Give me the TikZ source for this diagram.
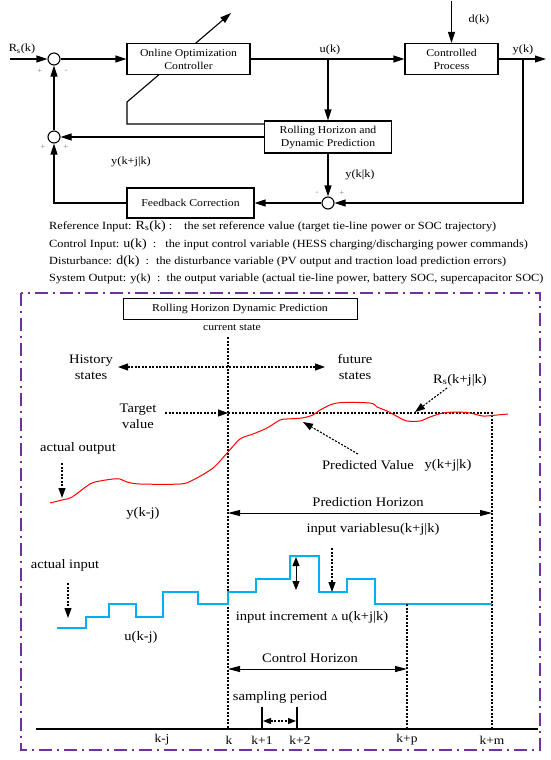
\documentclass[tikz,border=0pt]{standalone}
\usepackage{fontspec}
\setmainfont{Liberation Serif}[FakeStretch=1.12]
\usetikzlibrary{arrows.meta}
\pgfdeclarelayer{bg}
\pgfsetlayers{bg,main}
\definecolor{purp}{RGB}{112,48,160}
\definecolor{cyanline}{RGB}{0,176,240}
\begin{document}
\begin{tikzpicture}[x=1pt,y=-1pt,
  blk/.style={draw,line width=1.1pt,fill=white,inner sep=0pt,align=center,font=\fontsize{10.5}{13}\selectfont},
  sumc/.style={circle,draw,line width=1.1pt,fill=white,minimum size=12pt,inner sep=0pt},
  arr/.style={line width=1.1pt,-{Triangle[length=11pt,width=7pt]}},
  lbl/.style={inner sep=0pt,font=\fontsize{11}{13}\selectfont},
  sgn/.style={inner sep=0pt,text=gray,font=\fontsize{8}{9}\selectfont},
  leg/.style={inner sep=0pt,anchor=west,font=\fontsize{11}{12}\selectfont},
  txt/.style={inner sep=0pt,align=center,font=\fontsize{13}{16}\selectfont},
  stxt/.style={inner sep=0pt,align=center,font=\fontsize{12}{14}\selectfont},
  dotl/.style={line width=1.1pt,dash pattern=on 2pt off 1.5pt},
  darr/.style={dotl,-{Triangle[length=10pt,width=7pt]}},
  ddarr/.style={dotl,{Triangle[length=10pt,width=7pt]}-{Triangle[length=10pt,width=7pt]}},
  harr/.style={line width=1pt,{Triangle[length=12pt,width=6pt]}-{Triangle[length=12pt,width=6pt]}}
]
\useasboundingbox (0,0) rectangle (550,760);
% ---------- top block diagram ----------
\node[blk,minimum width=123pt,minimum height=31pt] (ctrl) at (188.5,59) {Online Optimization\\Controller};
\node[blk,minimum width=93pt,minimum height=31pt] (proc) at (451.5,59) {Controlled\\Process};
\node[blk,minimum width=127pt,minimum height=32pt] (roll) at (328,137) {Rolling Horizon and\\Dynamic Prediction};
\node[blk,minimum width=127pt,minimum height=30pt] (fb) at (190.5,203) {Feedback Correction};
\node[sumc] (s1) at (54,59) {};
\node[sumc] (s2) at (54,137) {};
\node[sumc] (s3) at (328,203) {};
\coordinate (rin) at (10,59);
\coordinate (uj) at (328,59);
\coordinate (din) at (451.5,1);
\coordinate (yout) at (546,59);
\coordinate (yj) at (523,59);
\coordinate (tb) at (127,102);
\coordinate (tip) at (231,13);
\begin{pgfonlayer}{bg}
\draw[arr] ([yshift=-3.5pt]roll.north west) -| (tb) -- (tip);
\end{pgfonlayer}
\draw[arr] (rin) -- (s1.west);
\draw[arr] (s1.east) -- (ctrl.west);
\draw[arr] (ctrl.east) -- (proc.west);
\draw[arr] (uj) -- (roll.north);
\draw[arr] (din) -- (proc.north);
\draw[arr] (proc.east) -- (yout);
\draw[arr] (yj) |- (s3.east);
\draw[arr] (roll.south) -- (s3.north);
\draw[arr] (s3.west) -- (fb.east);
\draw[arr] (fb.west) -| (s2.south);
\draw[arr] (roll.west) -- (s2.east);
\draw[arr] (s2.north) -- (s1.south);
\node[lbl] (lrs) at (22,49) {R\textsubscript{s}(k)};
\node[lbl] (luk) at (330,50) {u(k)};
\node[lbl] (ldk) at (479,20) {d(k)};
\node[lbl] (lyk) at (523,50) {y(k)};
\node[lbl] (lykj) at (131,162) {y(k+j|k)};
\node[lbl] (lykk) at (360,175) {y(k|k)};
\node[sgn] (p1) at (40,71) {+};
\node[sgn] (m1) at (66,71) {-};
\node[sgn] (p2) at (43,147) {+};
\node[sgn] (p3) at (66,147) {+};
\node[sgn] (m3) at (317,193) {-};
\node[sgn] (p4) at (342,193) {+};
% ---------- legend ----------
\node[leg] (l1) at (49,226) {Reference Input: {\fontsize{12.5}{12}\selectfont R\textsubscript{s}(k)}\ :\hspace{12pt}the set reference value (target tie-line power or SOC trajectory)};
\node[leg] (l2) at (49,244) {Control Input: {\fontsize{12.5}{12}\selectfont u(k)}\ \ :\hspace{9pt}the input control variable (HESS charging/discharging power commands)};
\node[leg] (l3) at (49,261) {Disturbance: {\fontsize{12.5}{12}\selectfont d(k)}\ \ :\hspace{7pt}the disturbance variable (PV output and traction load prediction errors)};
\node[leg] (l4) at (49,279) {System Output: y(k)\ \ :\ \ the output variable (actual tie-line power, battery SOC, supercapacitor SOC)};
% ---------- bottom panel ----------
\draw[purp,line width=1.5pt,dash pattern=on 13pt off 5pt on 2pt off 5pt] (21,293) rectangle (540,750);
\node[draw,line width=1pt,minimum width=234pt,minimum height=21pt,inner sep=0pt,font=\fontsize{10.6}{12}\selectfont] (title) at (240,308.5) {Rolling Horizon Dynamic Prediction};
\node[inner sep=0pt,font=\fontsize{10.5}{12}\selectfont] (cs) at (232,328) {current state};
\coordinate (kt) at (228,337);
\coordinate (kb) at (228,729);
\draw[dotl] (kt) -- (kb);
\node[txt] (hist) at (91,367) {History\\states};
\node[txt] (fut) at (355,367) {future\\states};
\coordinate (ha) at (118,367);
\coordinate (fa) at (325,367);
\draw[ddarr] (ha) -- (fa);
\node[txt] (tgt) at (138,416.5) {Target\\value};
\coordinate (ta) at (165,413);
\coordinate (tk) at (228,413);
\coordinate (tm) at (492,413);
\coordinate (mb) at (492,729);
\draw[darr] (ta) -- (tk);
\draw[dotl] (tk) -- (tm) -- (mb);
\node[txt] (rsk) at (460,380) {R\textsubscript{s}(k+j|k)};
\coordinate (ra1) at (447,388);
\coordinate (ra2) at (415,412);
\draw[darr] (ra1) -- (ra2);
\draw[red,line width=1pt] plot[smooth,tension=0.5] coordinates {(50,503) (62,500) (72,497) (90,484) (100,481) (113,479) (120,479) (127,482) (140,484) (180,484) (193,480) (213,468) (228,452) (240,439) (253,434) (267,428) (280,420) (287,419) (302,418) (313,415) (320,410) (337,403) (370,403) (377,407) (387,411) (400,418) (407,421) (420,421) (430,417) (443,413) (457,412) (470,413) (483,416) (497,415) (508,414)};
\node[txt] (ao) at (78,448) {actual output};
\coordinate (ao1) at (62,463);
\coordinate (ao2) at (62,498);
\draw[darr] (ao1) -- (ao2);
\node[txt] (pv) at (368,465) {Predicted Value};
\node[txt] (pvy) at (448,465) {y(k+j|k)};
\coordinate (pa1) at (358,454);
\coordinate (pa2) at (303,422);
\draw[darr] (pa1) -- (pa2);
\node[txt] (ph) at (368,502) {Prediction Horizon};
\coordinate (ph1) at (228,513);
\coordinate (ph2) at (492,513);
\draw[harr] (ph1) -- (ph2);
\node[txt] (ykj) at (143,513) {y(k-j)};
\node[txt] (iv) at (373,529) {input variablesu(k+j|k)};
\draw[cyanline,line width=1.6pt] (57,628) -| (86,617) -| (109,604) -| (136,617) -| (163,592) -| (198,604) -| (228,592) -| (256,579) -| (290,556) -| (319,592) -| (347,579) -| (375,604) -- (492,604);
\coordinate (da1) at (296,557);
\coordinate (da2) at (296,590);
\draw[line width=1pt,{Triangle[length=9pt,width=7pt]}-{Triangle[length=9pt,width=7pt]}] (da1) -- (da2);
\coordinate (db1) at (332,548);
\coordinate (db2) at (332,592);
\draw[darr] (db1) -- (db2);
\node[txt] (ai) at (65,565) {actual input};
\coordinate (ai1) at (68,583);
\coordinate (ai2) at (68,618);
\draw[darr] (ai1) -- (ai2);
\node[txt] (ukj) at (141,637) {u(k-j)};
\node[txt] (ii) at (312,617) {input increment {\fontsize{9}{9}\selectfont Δ} u(k+j|k)};
\coordinate (pt) at (407,604);
\coordinate (pb) at (407,729);
\draw[dotl] (pt) -- (pb);
\node[txt] (ch) at (310,658) {Control Horizon};
\coordinate (ch1) at (228,669);
\coordinate (ch2) at (407,669);
\draw[harr] (ch1) -- (ch2);
\node[txt] (sp) at (280,697) {sampling period};
\coordinate (t1a) at (262,707);
\coordinate (t1b) at (262,729);
\coordinate (t2a) at (297,707);
\coordinate (t2b) at (297,729);
\draw[line width=1.1pt] (t1a) -- (t1b);
\draw[line width=1.1pt] (t2a) -- (t2b);
\coordinate (sa1) at (263,721);
\coordinate (sa2) at (296,721);
\draw[dotl,{Triangle[length=8pt,width=6pt]}-{Triangle[length=8pt,width=6pt]}] (sa1) -- (sa2);
\coordinate (ax1) at (36,729);
\coordinate (ax2) at (538,729);
\draw[line width=1.2pt] (ax1) -- (ax2);
\node[stxt] (xkj) at (162,740) {k-j};
\node[stxt] (xk) at (229,740) {k};
\node[stxt] (xk1) at (262,740) {k+1};
\node[stxt] (xk2) at (300,740) {k+2};
\node[stxt] (xkp) at (407,740) {k+p};
\node[stxt] (xkm) at (492,740) {k+m};
\end{tikzpicture}
\end{document}
